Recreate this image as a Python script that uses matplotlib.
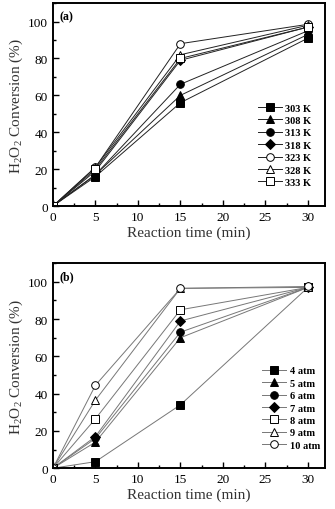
import numpy as np
import matplotlib
matplotlib.use('Agg')
import matplotlib.pyplot as plt
from matplotlib.ticker import MultipleLocator

plt.rcParams['font.family'] = ['Liberation Serif', 'DejaVu Serif']
plt.rcParams['mathtext.fontset'] = 'custom'
plt.rcParams['mathtext.rm'] = 'Liberation Serif'

time = [0, 5, 15, 30]

# panel (a): temperature
temp_labels = ['303 K', '308 K', '313 K', '318 K', '323 K', '328 K', '333 K']
conv_303 = [0, 16, 56, 91]
conv_308 = [0, 17, 60, 93]
conv_313 = [0, 17, 66, 95]
conv_318 = [0, 19, 79, 97]
conv_323 = [0, 21, 88, 98.5]
conv_328 = [0, 21, 82, 98]
conv_333 = [0, 20, 80, 97]
temp_series = [conv_303, conv_308, conv_313, conv_318, conv_323, conv_328, conv_333]
temp_markers = ['s', '^', 'o', 'D', 'o', '^', 's']

# panel (b): pressure
pres_labels = ['4 atm', '5 atm', '6 atm', '7 atm', '8 atm', '9 atm', '10 atm']
conv_4 = [0, 3.5, 34, 97]
conv_5 = [0, 14, 70, 97]
conv_6 = [0, 16, 73, 97]
conv_7 = [0, 17, 79, 97]
conv_8 = [0, 26.5, 85, 97]
conv_9 = [0, 36.5, 96.5, 97]
conv_10 = [0, 44.5, 96.5, 97.5]
pres_series = [conv_4, conv_5, conv_6, conv_7, conv_8, conv_9, conv_10]
pres_markers = ['s', '^', 'o', 'D', 's', '^', 'o']

filled = [True, True, True, True, False, False, False]


def draw(ax, series, labels, markers, tag, linecol, leg_anchor):
    for y, lab, m, f in zip(series, labels, markers, filled):
        ms = 5.5 if m != 'D' else 5
        ax.plot(time, y, color=linecol, lw=0.7, marker=m, ms=ms,
                mfc='black' if f else 'white', mec='black', mew=0.7, label=lab)
    ax.set_xlim(0, 32)
    ax.set_ylim(0, 110)
    ax.xaxis.set_major_locator(MultipleLocator(5))
    ax.xaxis.set_minor_locator(MultipleLocator(2.5))
    ax.yaxis.set_minor_locator(MultipleLocator(10))
    ax.set_yticks([0, 20, 40, 60, 80, 100])
    ax.tick_params(which='both', direction='in', top=False, right=False,
                   labelsize=9.5, width=1.0)
    ax.tick_params(which='major', length=4)
    ax.tick_params(which='minor', length=2.5)
    for s in ax.spines.values():
        s.set_linewidth(1.4)
    ax.set_xlabel('Reaction time (min)', fontsize=11, color='#333333', labelpad=2)
    ax.set_ylabel(r'H$_2$O$_2$ Conversion (%)', fontsize=11, color='#333333', labelpad=2)
    ax.text(0.025, 0.965, tag, transform=ax.transAxes, fontsize=8.5,
            fontweight='bold', va='top', ha='left')
    ax.legend(loc='center left', bbox_to_anchor=leg_anchor, frameon=False,
              prop={'weight': 'bold', 'size': 7.5}, handlelength=2.3,
              handletextpad=0.3, labelspacing=0.3, borderaxespad=0)


fig = plt.figure(figsize=(3.35, 5.10), dpi=100)
ax1 = fig.add_axes([0.158, 0.594, 0.812, 0.398])
ax2 = fig.add_axes([0.158, 0.080, 0.812, 0.402])

draw(ax1, temp_series, temp_labels, temp_markers, '(a)', '#222222', (0.737, 0.30))
draw(ax2, pres_series, pres_labels, pres_markers, '(b)', '#777777', (0.755, 0.294))

fig.savefig('out.png', dpi=100)
